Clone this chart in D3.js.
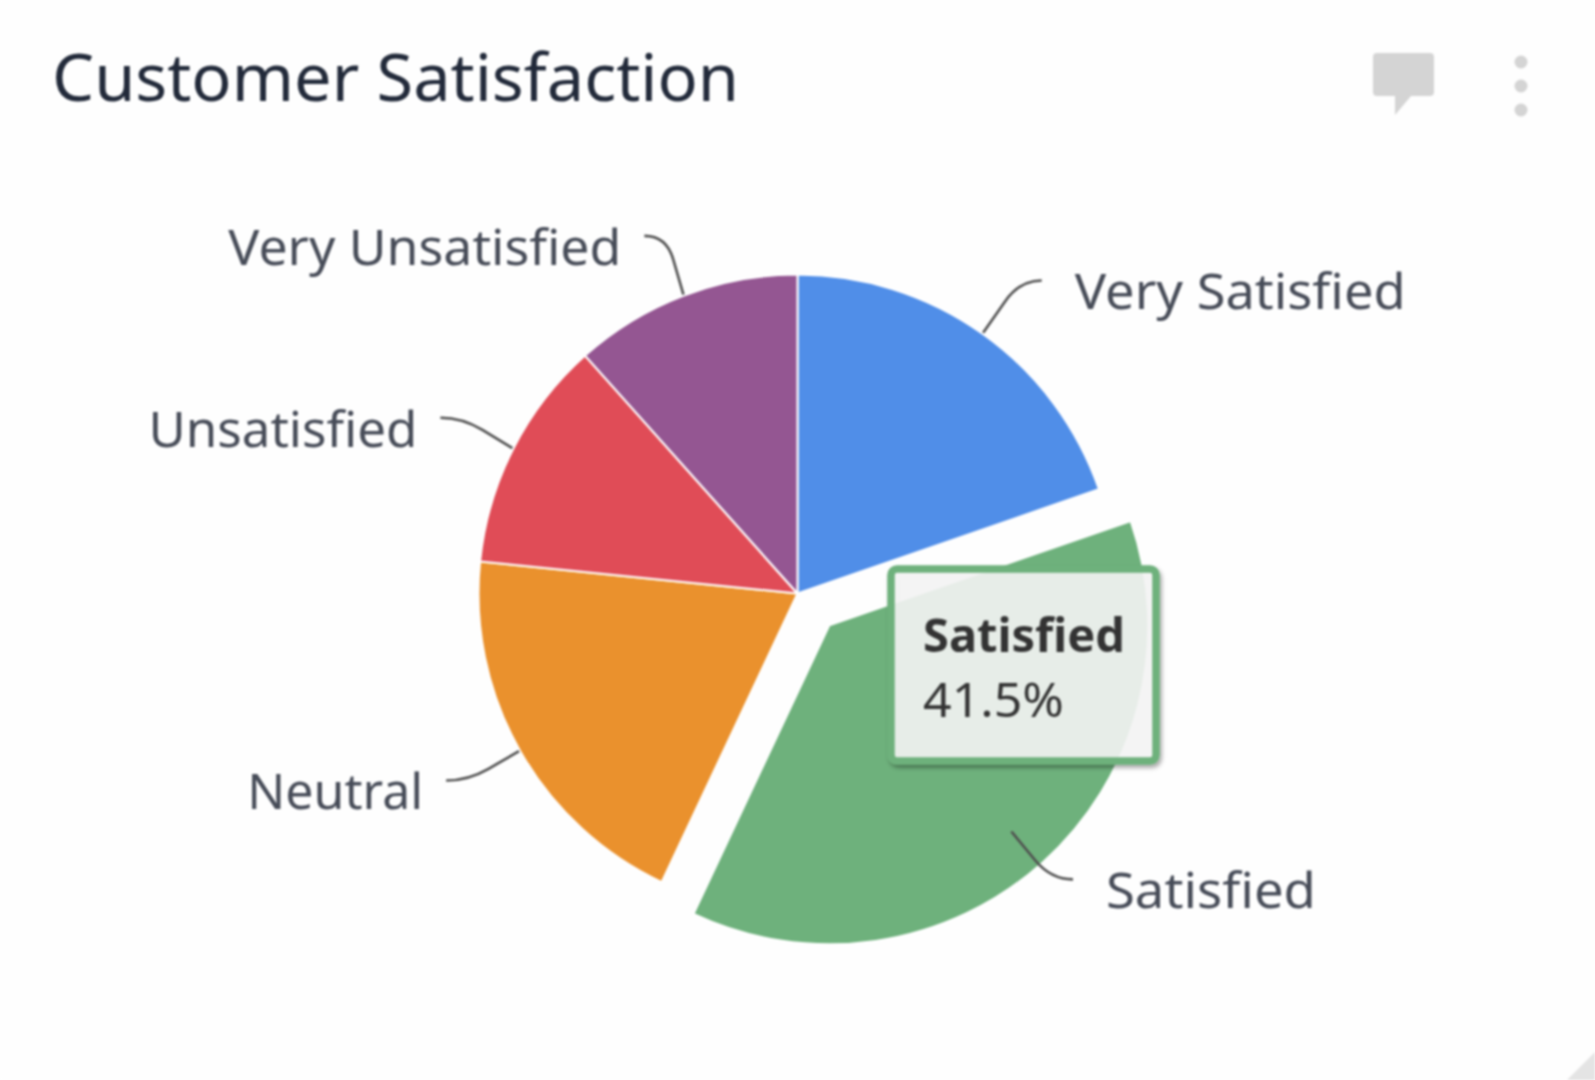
<!DOCTYPE html>
<html><head><meta charset="utf-8">
<script src="https://cdn.jsdelivr.net/npm/d3@7"></script>
<style>html,body{margin:0;padding:0;background:#fefefe}svg{display:block;filter:blur(.9px)}text{font-family:"Noto Sans",sans-serif;font-variant-ligatures:common-ligatures}</style>
</head><body><svg id="c" width="1595" height="1080"></svg>
<script>
const titleText = "Customer Satisfaction";
const categories = ["Very Satisfied","Satisfied","Neutral","Unsatisfied","Very Unsatisfied"];
const sliceShares = [19.7,37.3,19.6,11.8,11.6];
const colors = ["#508ee8","#6eb17c","#ea912d","#e04c57","#945692"];
const tooltipName = "Satisfied";
const tooltipValue = "41.5%";
const explodedCategory = "Satisfied";

// layout only
const labelWidths = {"Very Satisfied":331,"Satisfied":210,"Neutral":176,"Unsatisfied":269,"Very Unsatisfied":393};
const leaderNudgeDeg = {"Very Satisfied":2.5,"Satisfied":-2,"Neutral":1.5,"Unsatisfied":-0.8,"Very Unsatisfied":-2.3};
const leaderRadius = {"Very Satisfied":397,"Satisfied":397,"Neutral":398,"Unsatisfied":398,"Very Unsatisfied":389};
const cx=797.5, cy=593.5, r=319, explode=45, explodeNudgeDeg=-3;

const svg=d3.select("#c");
svg.append("rect").attr("width",1595).attr("height",1080).attr("fill","#fefefe");
svg.append("text").attr("x",52).attr("y",101).attr("font-size",66).attr("fill","#222a3a")
  .attr("textLength",687).attr("lengthAdjust","spacingAndGlyphs").text(titleText);

// header icons
svg.append("path").attr("fill","#d4d4d4")
  .attr("d","M1377 53H1430a4 4 0 0 1 4 4V92a4 4 0 0 1-4 4H1411L1395 115V96H1377a4 4 0 0 1-4-4V57a4 4 0 0 1 4-4Z");
svg.selectAll("circle.dot").data([62,86,110]).join("circle").attr("class","dot")
  .attr("cx",1521).attr("cy",d=>d).attr("r",6.5).attr("fill","#d4d4d4");
svg.append("path").attr("fill","#e4e4e4").attr("d","M1567 1080L1595 1052V1080Z");

const pie=d3.pie().sort(null).value(d=>d.v).startAngle(0).endAngle(2*Math.PI);
const arcs=pie(categories.map((c,i)=>({c,v:sliceShares[i],col:colors[i]})));
const arc=d3.arc().innerRadius(0).outerRadius(r);
const pt=(a,R)=>[cx+R*Math.sin(a),cy-R*Math.cos(a)];
const mid=d=>(d.startAngle+d.endAngle)/2;

svg.append("g").selectAll("path").data(arcs).join("path")
  .attr("d",arc)
  .attr("transform",d=>{
    const on=d.data.c===explodedCategory;
    const p=pt(mid(d)+(on?explodeNudgeDeg*Math.PI/180:0),on?explode:0);
    return `translate(${p[0]},${p[1]})`;})
  .attr("fill",d=>d.data.col).attr("stroke","#fff").attr("stroke-width",2).attr("stroke-linejoin","round");

// connectors and labels
const lg=svg.append("g");
arcs.forEach(d=>{
  const a=mid(d), right=Math.sin(a)>0, sgn=right?1:-1;
  const s=pt(a,r+1);
  const e=pt(a+leaderNudgeDeg[d.data.c]*Math.PI/180,leaderRadius[d.data.c]);
  const c=[e[0]-sgn*22,e[1]];
  const k=[s[0]+(c[0]-s[0])*.6,s[1]+(c[1]-s[1])*.6];
  const p=d3.path();p.moveTo(s[0],s[1]);p.lineTo(k[0],k[1]);p.quadraticCurveTo(c[0],c[1],e[0],e[1]);
  lg.append("path").attr("d",p.toString()).attr("fill","none").attr("stroke","#4f4f4f").attr("stroke-width",2.6);
  lg.append("text").attr("x",e[0]+(right?33:-23)).attr("y",e[1]+29)
    .attr("text-anchor",right?"start":"end").attr("font-size",50).attr("fill","#474c58")
    .attr("textLength",labelWidths[d.data.c]).attr("lengthAdjust","spacingAndGlyphs").text(d.data.c);
});

// tooltip
const defs=svg.append("defs");
const f=defs.append("filter").attr("id","sh").attr("x","-10%").attr("y","-10%").attr("width","120%").attr("height","120%");
f.append("feDropShadow").attr("dx",2).attr("dy",3).attr("stdDeviation",2).attr("flood-color","#000").attr("flood-opacity",.35);
const tg=svg.append("g");
tg.append("rect").attr("x",891).attr("y",569).attr("width",265).attr("height",192).attr("rx",6)
  .attr("fill","#f7f7f7").attr("fill-opacity",.88).attr("stroke","#6eb17c").attr("stroke-width",7.5).attr("filter","url(#sh)");
tg.append("text").attr("x",923).attr("y",652).attr("font-size",47).attr("font-weight",700).attr("fill","#333")
  .attr("textLength",202).attr("lengthAdjust","spacingAndGlyphs").text(tooltipName);
tg.append("text").attr("x",923).attr("y",717).attr("font-size",47).attr("fill","#333")
  .attr("textLength",141).attr("lengthAdjust","spacingAndGlyphs").text(tooltipValue);
</script></body></html>
